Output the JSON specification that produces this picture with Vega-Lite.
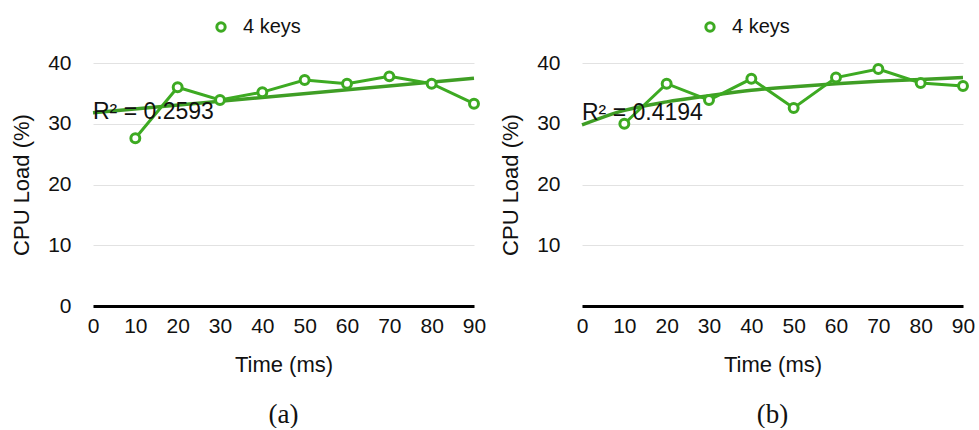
{
  "$schema": "https://vega.github.io/schema/vega-lite/v6.json",
  "padding": {"left": 10, "top": 17, "right": 5, "bottom": 0},
  "background": "white",
  "datasets": {
    "points_a": [
      {"t": 10, "load": 27.6, "series": "4 keys"},
      {"t": 20, "load": 36.0, "series": "4 keys"},
      {"t": 30, "load": 33.9, "series": "4 keys"},
      {"t": 40, "load": 35.2, "series": "4 keys"},
      {"t": 50, "load": 37.2, "series": "4 keys"},
      {"t": 60, "load": 36.6, "series": "4 keys"},
      {"t": 70, "load": 37.8, "series": "4 keys"},
      {"t": 80, "load": 36.6, "series": "4 keys"},
      {"t": 90, "load": 33.3, "series": "4 keys"}
    ],
    "points_b": [
      {"t": 10, "load": 30.0, "series": "4 keys"},
      {"t": 20, "load": 36.6, "series": "4 keys"},
      {"t": 30, "load": 33.9, "series": "4 keys"},
      {"t": 40, "load": 37.4, "series": "4 keys"},
      {"t": 50, "load": 32.6, "series": "4 keys"},
      {"t": 60, "load": 37.6, "series": "4 keys"},
      {"t": 70, "load": 39.0, "series": "4 keys"},
      {"t": 80, "load": 36.7, "series": "4 keys"},
      {"t": 90, "load": 36.2, "series": "4 keys"}
    ],
    "trend_a": [
      {"t": 0, "load": 31.8},
      {"t": 90, "load": 37.5}
    ],
    "trend_b": [
      {"t": 0, "load": 29.8},
      {"t": 10, "load": 32.2},
      {"t": 20, "load": 33.6},
      {"t": 30, "load": 34.6},
      {"t": 40, "load": 35.5},
      {"t": 50, "load": 36.1},
      {"t": 60, "load": 36.6},
      {"t": 70, "load": 37.0},
      {"t": 80, "load": 37.3},
      {"t": 90, "load": 37.6}
    ],
    "r2_a": [{"t": 0, "load": 32.0, "label": "R² = 0.2593"}],
    "r2_b": [{"t": 0, "load": 31.7, "label": "R² = 0.4194"}]
  },
  "spacing": 13,
  "hconcat": [
    {
      "width": 381,
      "height": 243,
      "title": {"text": "(a)", "orient": "bottom", "font": "Liberation Serif", "fontSize": 27, "fontWeight": "normal", "color": "#111", "offset": 27},
      "layer": [
        {
          "data": {"name": "trend_a"},
          "mark": {"type": "line", "color": "#3f9e25", "strokeWidth": 3.5},
          "encoding": {
            "x": {"field": "t", "type": "quantitative", "scale": {"domain": [0, 90], "nice": false},
              "axis": {"title": "Time (ms)", "values": [0, 10, 20, 30, 40, 50, 60, 70, 80, 90], "labelFlush": false, "labelOverlap": false, "grid": false, "domainColor": "#000", "domainWidth": 3, "ticks": false, "tickSize": 0, "labelPadding": 9, "labelFontSize": 21, "labelFont": "Liberation Sans", "labelColor": "#111", "titleFont": "Liberation Sans", "titleFontSize": 22, "titleFontWeight": "normal", "titleColor": "#111", "titlePadding": 18}},
            "y": {"field": "load", "type": "quantitative", "scale": {"domain": [0, 40], "nice": false},
              "axis": {"title": "CPU Load (%)", "values": [0, 10, 20, 30, 40], "grid": true, "gridColor": "#e2e2e2", "gridWidth": 1, "domain": false, "ticks": false, "tickSize": 0, "labelPadding": 22, "labelFontSize": 21, "labelFont": "Liberation Sans", "labelColor": "#111", "titleFont": "Liberation Sans", "titleFontSize": 22, "titleFontWeight": "normal", "titleColor": "#111", "titlePadding": 14}}
          }
        },
        {
          "data": {"name": "points_a"},
          "mark": {"type": "line", "strokeWidth": 3, "point": {"filled": false, "fill": "white", "size": 80, "strokeWidth": 3}},
          "encoding": {
            "x": {"field": "t", "type": "quantitative"},
            "y": {"field": "load", "type": "quantitative"},
            "color": {"field": "series", "type": "nominal", "scale": {"range": ["#3daa22"]},
              "legend": {"title": null, "orient": "none", "legendX": 118, "legendY": -46, "symbolType": "circle", "symbolSize": 70, "symbolStrokeWidth": 3, "symbolFillColor": "white", "labelFontSize": 20, "labelFont": "Liberation Sans", "labelColor": "#111", "labelOffset": 12}}
          }
        },
        {
          "data": {"name": "r2_a"},
          "mark": {"type": "text", "align": "left", "baseline": "middle", "font": "Liberation Sans", "fontSize": 23, "color": "#111"},
          "encoding": {
            "x": {"field": "t", "type": "quantitative"},
            "y": {"field": "load", "type": "quantitative"},
            "text": {"field": "label"}
          }
        }
      ]
    },
    {
      "width": 381,
      "height": 243,
      "title": {"text": "(b)", "orient": "bottom", "font": "Liberation Serif", "fontSize": 27, "fontWeight": "normal", "color": "#111", "offset": 27},
      "layer": [
        {
          "data": {"name": "trend_b"},
          "mark": {"type": "line", "color": "#3f9e25", "strokeWidth": 3.5, "interpolate": "monotone"},
          "encoding": {
            "x": {"field": "t", "type": "quantitative", "scale": {"domain": [0, 90], "nice": false},
              "axis": {"title": "Time (ms)", "values": [0, 10, 20, 30, 40, 50, 60, 70, 80, 90], "labelFlush": false, "labelOverlap": false, "grid": false, "domainColor": "#000", "domainWidth": 3, "ticks": false, "tickSize": 0, "labelPadding": 9, "labelFontSize": 21, "labelFont": "Liberation Sans", "labelColor": "#111", "titleFont": "Liberation Sans", "titleFontSize": 22, "titleFontWeight": "normal", "titleColor": "#111", "titlePadding": 18}},
            "y": {"field": "load", "type": "quantitative", "scale": {"domain": [0, 40], "nice": false},
              "axis": {"title": "CPU Load (%)", "values": [0, 10, 20, 30, 40], "labelExpr": "datum.value == 0 ? '' : datum.label", "grid": true, "gridColor": "#e2e2e2", "gridWidth": 1, "domain": false, "ticks": false, "tickSize": 0, "labelPadding": 22, "labelFontSize": 21, "labelFont": "Liberation Sans", "labelColor": "#111", "titleFont": "Liberation Sans", "titleFontSize": 22, "titleFontWeight": "normal", "titleColor": "#111", "titlePadding": 14}}
          }
        },
        {
          "data": {"name": "points_b"},
          "mark": {"type": "line", "strokeWidth": 3, "point": {"filled": false, "fill": "white", "size": 80, "strokeWidth": 3}},
          "encoding": {
            "x": {"field": "t", "type": "quantitative"},
            "y": {"field": "load", "type": "quantitative"},
            "color": {"field": "series", "type": "nominal", "scale": {"range": ["#3daa22"]},
              "legend": {"title": null, "orient": "none", "legendX": 118, "legendY": -46, "symbolType": "circle", "symbolSize": 70, "symbolStrokeWidth": 3, "symbolFillColor": "white", "labelFontSize": 20, "labelFont": "Liberation Sans", "labelColor": "#111", "labelOffset": 12}}
          }
        },
        {
          "data": {"name": "r2_b"},
          "mark": {"type": "text", "align": "left", "baseline": "middle", "font": "Liberation Sans", "fontSize": 23, "color": "#111"},
          "encoding": {
            "x": {"field": "t", "type": "quantitative"},
            "y": {"field": "load", "type": "quantitative"},
            "text": {"field": "label"}
          }
        }
      ],
      "resolve": {"scale": {"color": "independent"}}
    }
  ],
  "resolve": {"scale": {"color": "independent"}, "legend": {"color": "independent"}},
  "config": {"view": {"stroke": null}}
}
